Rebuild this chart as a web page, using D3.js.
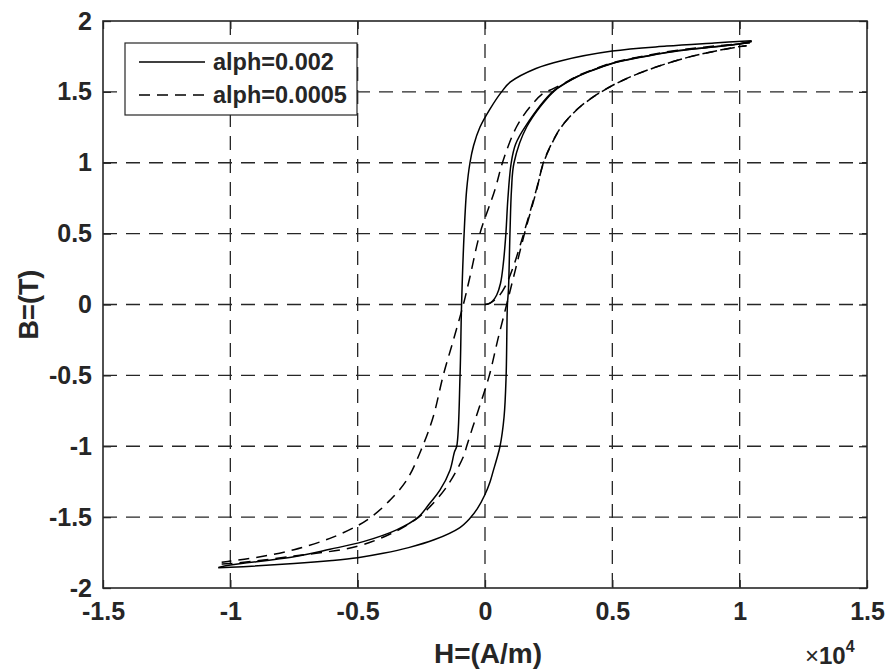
<!DOCTYPE html>
<html>
<head>
<meta charset="utf-8">
<script src="https://cdn.jsdelivr.net/npm/d3@7"></script>
<style>
  body { margin: 0; background: #fff; }
  text { font-family: "Liberation Sans", Arial, sans-serif; font-weight: bold; fill: #262626; }
</style>
</head>
<body>
<div id="chart"></div>
<script>
// H in A/m, B in T
var xTicks = [-15000, -10000, -5000, 0, 5000, 10000, 15000];
var yTicks = [-2, -1.5, -1, -0.5, 0, 0.5, 1, 1.5, 2];
var legendNames = ["alph=0.002", "alph=0.0005"];

// alph=0.002 (solid)
var solidInit = [[0,0],[150,0.005],[300,0.025],[460,0.067],[610,0.15],[720,0.29],[820,0.5],[900,0.75],[1030,1.0],[1200,1.13],[1600,1.26],[2650,1.5],[3200,1.567],[3600,1.607],[4200,1.652],[5000,1.702],[6000,1.742],[7500,1.789],[10000,1.84],[10470,1.857]];
var solidDown = [[10470,1.861],[9000,1.845],[7130,1.823],[5000,1.788],[3000,1.72],[2000,1.665],[1000,1.57],[650,1.5],[200,1.38],[-200,1.25],[-450,1.12],[-590,1.0],[-720,0.81],[-820,0.5],[-920,0],[-980,-0.5],[-1110,-1.0],[-1200,-1.04],[-1370,-1.167],[-1770,-1.31],[-2160,-1.4],[-2620,-1.5],[-3470,-1.59],[-4780,-1.673],[-6090,-1.727],[-7500,-1.78],[-10000,-1.838],[-10470,-1.855]];
var solidUp = [[-10470,-1.857],[-10000,-1.854],[-7500,-1.828],[-6000,-1.806],[-5000,-1.786],[-4000,-1.755],[-3000,-1.715],[-2000,-1.66],[-1000,-1.575],[-600,-1.51],[-300,-1.44],[0,-1.34],[200,-1.25],[330,-1.17],[460,-1.09],[590,-1.0],[750,-0.79],[830,-0.5],[880,0],[920,0.1],[980,0.5],[1040,0.81],[1140,1.0],[1640,1.254],[2680,1.5],[3200,1.565],[3600,1.605],[4200,1.65],[5000,1.70],[6000,1.74],[7500,1.787],[10000,1.838],[10470,1.855]];

// alph=0.0005 (dashed)
var dashInit = [[0,0],[200,0.01],[500,0.05],[800,0.13],[1100,0.26],[1350,0.4],[1600,0.55],[2000,0.8],[2300,1.0],[2610,1.13],[2950,1.24],[3310,1.32],[3740,1.395],[4390,1.48],[5010,1.545],[5830,1.615],[7140,1.70],[8450,1.765],[10000,1.82],[10270,1.826]];
var dashDown = [[10400,1.845],[10000,1.84],[7500,1.792],[6000,1.745],[5000,1.705],[4200,1.655],[3600,1.61],[3200,1.57],[2620,1.518],[2290,1.49],[1770,1.395],[1240,1.254],[720,1.02],[390,0.81],[-200,0.5],[-590,0.196],[-850,0],[-1240,-0.25],[-1640,-0.5],[-2030,-0.79],[-2450,-1.0],[-3070,-1.238],[-3730,-1.38],[-4400,-1.49],[-5000,-1.56],[-6090,-1.65],[-7500,-1.73],[-9000,-1.785],[-10000,-1.81],[-10340,-1.818]];
var dashUp = [[-10340,-1.83],[-10000,-1.828],[-7500,-1.775],[-5000,-1.705],[-3500,-1.6],[-2600,-1.5],[-2160,-1.426],[-1500,-1.285],[-850,-1.074],[-720,-1.0],[-490,-0.87],[-260,-0.744],[170,-0.5],[500,-0.25],[850,0],[1200,0.25],[1550,0.5],[2030,0.81],[2290,1.0],[2600,1.13],[2940,1.24],[3300,1.32],[3730,1.395],[4380,1.48],[5000,1.545],[5820,1.615],[7130,1.70],[8440,1.765],[10000,1.819],[10270,1.826]];

var width = 890, height = 671;
var pLeft = 103, pRight = 867, pTop = 21, pBottom = 588;

var svg = d3.select("#chart").append("svg")
  .attr("width", width)
  .attr("height", height);

var x = d3.scaleLinear().domain([-15000, 15000]).range([pLeft, pRight]);
var y = d3.scaleLinear().domain([-2, 2]).range([pBottom, pTop]);

function num(v) { return String(+v.toFixed(4)); }

// grid
svg.append("g").selectAll("line").data(xTicks.slice(1, -1)).enter().append("line")
  .attr("x1", function (d) { return x(d); }).attr("x2", function (d) { return x(d); })
  .attr("y1", pTop).attr("y2", pBottom)
  .style("stroke", "#262626").style("stroke-width", 1.3).style("stroke-dasharray", "14,9");
svg.append("g").selectAll("line").data(yTicks.slice(1, -1)).enter().append("line")
  .attr("x1", pLeft).attr("x2", pRight)
  .attr("y1", function (d) { return y(d); }).attr("y2", function (d) { return y(d); })
  .style("stroke", "#262626").style("stroke-width", 1.3).style("stroke-dasharray", "14,9");

// curves
var line = d3.line()
  .x(function (d) { return x(d[0]); })
  .y(function (d) { return y(d[1]); })
  .curve(d3.curveCatmullRom.alpha(0.5));

var curves = [
  { data: solidInit, dash: null },
  { data: solidDown, dash: null },
  { data: solidUp, dash: null },
  { data: dashInit, dash: "11,7" },
  { data: dashDown, dash: "11,7" },
  { data: dashUp, dash: "11,7" }
];

svg.append("g").selectAll("path").data(curves).enter().append("path")
  .attr("d", function (d) { return line(d.data); })
  .style("fill", "none")
  .style("stroke", "#000")
  .style("stroke-width", 1.5)
  .style("stroke-dasharray", function (d) { return d.dash; });

// axes box with inward ticks on all sides
var xb = d3.axisBottom(x).tickValues(xTicks).tickSizeInner(-8).tickSizeOuter(0)
  .tickFormat(function (d) { return num(d / 10000); });
var xt = d3.axisTop(x).tickValues(xTicks).tickSizeInner(-8).tickSizeOuter(0).tickFormat("");
var yl = d3.axisLeft(y).tickValues(yTicks).tickSizeInner(-8).tickSizeOuter(0).tickFormat(num);
var yr = d3.axisRight(y).tickValues(yTicks).tickSizeInner(-8).tickSizeOuter(0).tickFormat("");

function styleAxis(g) {
  g.select(".domain").remove();
  g.selectAll(".tick line").style("stroke", "#262626").style("stroke-width", 1.3);
  g.selectAll("text").style("font-size", "25px").style("font-family", "Liberation Sans, Arial, sans-serif")
    .style("font-weight", "bold").style("fill", "#262626");
}

svg.append("g").attr("transform", "translate(0," + pBottom + ")").call(xb).call(styleAxis)
  .selectAll("text").attr("dy", "0.71em").attr("y", 14);
svg.append("g").attr("transform", "translate(0," + pTop + ")").call(xt).call(styleAxis);
svg.append("g").attr("transform", "translate(" + pLeft + ",0)").call(yl).call(styleAxis)
  .selectAll("text").attr("x", -11);
svg.append("g").attr("transform", "translate(" + pRight + ",0)").call(yr).call(styleAxis);

svg.append("rect")
  .attr("x", pLeft).attr("y", pTop)
  .attr("width", pRight - pLeft).attr("height", pBottom - pTop)
  .style("fill", "none").style("stroke", "#262626").style("stroke-width", 1.6);

// axis labels
svg.append("text").attr("x", 488).attr("y", 663)
  .attr("text-anchor", "middle").style("font-size", "28px").text("H=(A/m)");
svg.append("text").attr("transform", "translate(38," + ((pTop + pBottom) / 2) + ") rotate(-90)")
  .attr("text-anchor", "middle").style("font-size", "27px").text("B=(T)");

var expo = svg.append("text").attr("x", 805).attr("y", 664).style("font-size", "24px");
expo.append("tspan").style("font-weight", "normal").text("\u00d7");
expo.append("tspan").text("10");
expo.append("tspan").attr("dy", -12).style("font-size", "16px").text("4");

// legend
var lg = svg.append("g").attr("transform", "translate(125,43)");
lg.append("rect").attr("width", 232).attr("height", 72)
  .style("fill", "#fff").style("stroke", "#262626").style("stroke-width", 1.2);
lg.selectAll("line").data(legendNames).enter().append("line")
  .attr("x1", 14).attr("x2", 80)
  .attr("y1", function (d, i) { return 19 + i * 33; })
  .attr("y2", function (d, i) { return 19 + i * 33; })
  .style("stroke", "#000").style("stroke-width", 1.5)
  .style("stroke-dasharray", function (d, i) { return i ? "11,7" : null; });
lg.selectAll("text").data(legendNames).enter().append("text")
  .attr("x", 88)
  .attr("y", function (d, i) { return 27 + i * 33; })
  .style("font-size", "23.5px")
  .text(function (d) { return d; });
</script>
</body>
</html>
